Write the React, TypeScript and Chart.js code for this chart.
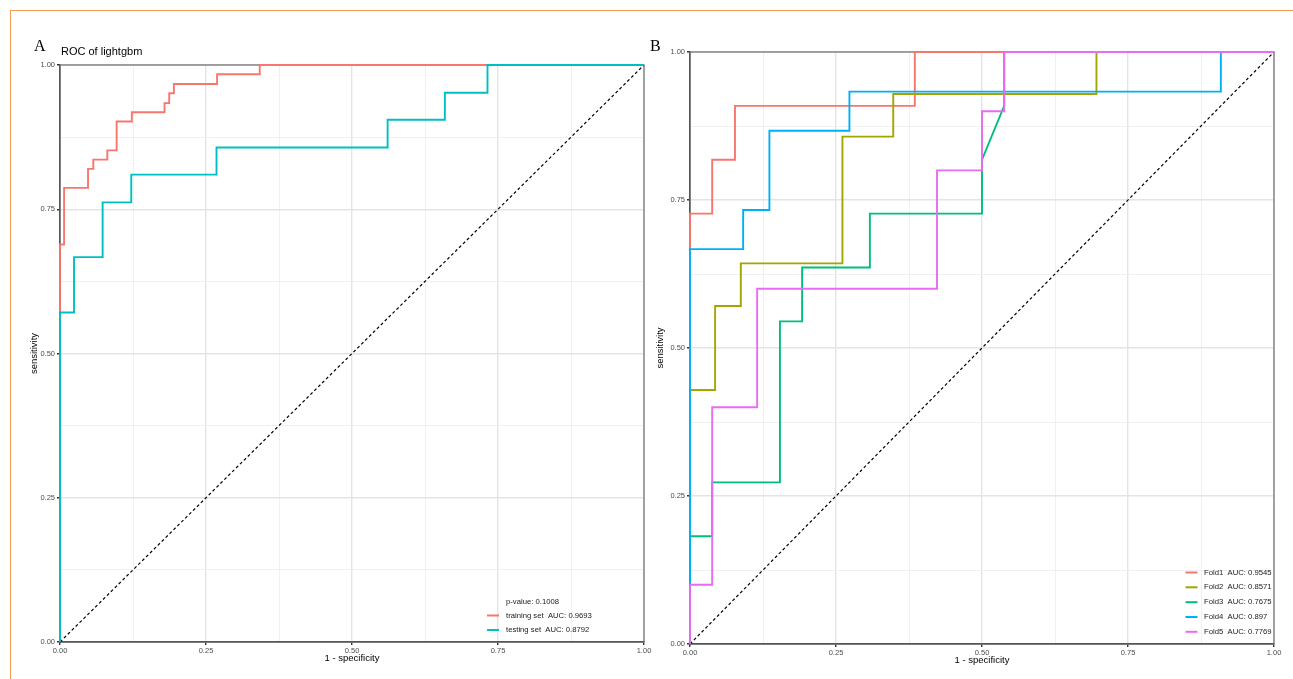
import React, { useEffect, useRef } from "react";
import { Chart, registerables } from "chart.js";

Chart.register(...registerables);

// ---------- Data ----------
// Panel A: ROC of lightgbm
const trainFpr = [0, 0, 0.007, 0.007, 0.048, 0.048, 0.057, 0.057, 0.081, 0.081, 0.097, 0.097, 0.123, 0.123, 0.179, 0.179, 0.187, 0.187, 0.195, 0.195, 0.269, 0.269, 0.342, 0.342, 1];
const trainTpr = [0, 0.689, 0.689, 0.787, 0.787, 0.820, 0.820, 0.836, 0.836, 0.852, 0.852, 0.902, 0.902, 0.918, 0.918, 0.934, 0.934, 0.951, 0.951, 0.967, 0.967, 0.984, 0.984, 1, 1];
const testFpr = [0, 0, 0.024, 0.024, 0.073, 0.073, 0.122, 0.122, 0.268, 0.268, 0.561, 0.561, 0.659, 0.659, 0.732, 0.732, 1];
const testTpr = [0, 0.571, 0.571, 0.667, 0.667, 0.762, 0.762, 0.810, 0.810, 0.857, 0.857, 0.905, 0.905, 0.952, 0.952, 1, 1];
const panelALabels = ["training set  AUC: 0.9693", "testing set  AUC: 0.8792"];
const panelAPValue = "p-value: 0.1008";
const panelATitle = "ROC of lightgbm";

// Panel B: 5-fold cross validation
const fold1Fpr = [0, 0, 0.038, 0.038, 0.077, 0.077, 0.385, 0.385, 1];
const fold1Tpr = [0, 0.727, 0.727, 0.818, 0.818, 0.909, 0.909, 1, 1];
const fold2Fpr = [0, 0, 0.043, 0.043, 0.087, 0.087, 0.261, 0.261, 0.348, 0.348, 0.696, 0.696, 1];
const fold2Tpr = [0, 0.429, 0.429, 0.571, 0.571, 0.643, 0.643, 0.857, 0.857, 0.929, 0.929, 1, 1];
const fold3Fpr = [0, 0, 0.038, 0.038, 0.154, 0.154, 0.192, 0.192, 0.308, 0.308, 0.5, 0.5, 0.538, 0.538, 1];
const fold3Tpr = [0, 0.182, 0.182, 0.273, 0.273, 0.545, 0.545, 0.636, 0.636, 0.727, 0.727, 0.818, 0.909, 1, 1];
const fold4Fpr = [0, 0, 0.091, 0.091, 0.136, 0.136, 0.273, 0.273, 0.909, 0.909, 1];
const fold4Tpr = [0, 0.667, 0.667, 0.733, 0.733, 0.867, 0.867, 0.933, 0.933, 1, 1];
const fold5Fpr = [0, 0, 0.038, 0.038, 0.115, 0.115, 0.423, 0.423, 0.5, 0.5, 0.538, 0.538, 1];
const fold5Tpr = [0, 0.1, 0.1, 0.4, 0.4, 0.6, 0.6, 0.8, 0.8, 0.9, 0.9, 1, 1];
const foldNames = ["Fold1", "Fold2", "Fold3", "Fold4", "Fold5"];
const foldAuc = ["0.9545", "0.8571", "0.7675", "0.897", "0.7769"];

const diagX = [0, 1];
const diagY = [0, 1];

const axisTickValues = [0, 0.25, 0.5, 0.75, 1];
const xTitle = "1 - specificity";
const yTitle = "sensitivity";

// ---------- Styles ----------
const SANS = "'Liberation Sans', Arial, Helvetica, sans-serif";
const SERIF = "'Liberation Serif', 'Times New Roman', serif";
const colorsA = ["#F8766D", "#00BFC4"];
const colorsB = ["#F8766D", "#A3A500", "#00BF7D", "#00B0F6", "#E76BF3"];

const pts = (xs: number[], ys: number[]) => xs.map((x, i) => ({ x, y: ys[i] }));
const isMajor = (v: any) =>
  typeof v === "number" && axisTickValues.some((t) => Math.abs(t - v) < 1e-6);

type LegendItem = { color: string | null; text: string };

type PanelSpec = {
  offsetX: number;
  width: number;
  height: number;
  pad: { left: number; right: number; top: number; bottom: number };
  yWidth: number;
  xHeight: number;
  xTitlePad: number;
  datasets: any[];
  letter: string;
  letterX: number;
  title?: string;
  legend: LegendItem[];
  legendSwatchX: number;
  legendTextX: number;
  legendYs: number[];
};

function makeScale(isX: boolean, size: number, titlePad: number) {
  return {
    type: "linear",
    min: 0,
    max: 1,
    ticks: {
      stepSize: 0.125,
      autoSkip: false,
      maxRotation: 0,
      padding: isX ? 1 : 2,
      color: "#4D4D4D",
      font: { family: SANS, size: 7.5 },
      callback: (v: any) => (isMajor(v) ? Number(v).toFixed(2) : ""),
    },
    grid: {
      color: (c: any) => (isMajor(c.tick?.value) ? "#E4E4E4" : "#EEEEEE"),
      lineWidth: (c: any) => (isMajor(c.tick?.value) ? 1.4 : 0.9),
      tickColor: (c: any) => (isMajor(c.tick?.value) ? "#333333" : "rgba(0,0,0,0)"),
      tickLength: 3,
      drawTicks: true,
    },
    border: { display: true, color: "#333333", width: 1.4 },
    title: {
      display: true,
      text: isX ? xTitle : yTitle,
      color: "#000000",
      font: { family: SANS, size: 9.5 },
      padding: isX ? { top: 0, bottom: titlePad } : { top: titlePad, bottom: 0 },
    },
    afterFit: (scale: any) => {
      if (isX) scale.height = size;
      else scale.width = size;
    },
  };
}

function Panel({ spec }: { spec: PanelSpec }) {
  const ref = useRef<HTMLCanvasElement | null>(null);
  useEffect(() => {
    if (!ref.current) return;
    const framePlugin = {
      id: "panelFrame",
      beforeDatasetsDraw(chart: any) {
        const { ctx, chartArea: a } = chart;
        ctx.save();
        ctx.strokeStyle = "#6E6E6E";
        ctx.lineWidth = 1.2;
        ctx.strokeRect(a.left, a.top, a.right - a.left, a.bottom - a.top);
        ctx.restore();
      },
    };
    const extrasPlugin = {
      id: "panelExtras",
      afterDraw(chart: any) {
        const ctx = chart.ctx as CanvasRenderingContext2D;
        const ox = spec.offsetX;
        ctx.save();
        ctx.fillStyle = "#000";
        ctx.font = `16px ${SERIF}`;
        ctx.textBaseline = "alphabetic";
        ctx.textAlign = "left";
        ctx.fillText(spec.letter, spec.letterX - ox, 51);
        if (spec.title) {
          ctx.font = `11px ${SANS}`;
          ctx.fillText(spec.title, 61 - ox, 55);
        }
        ctx.font = `7.7px ${SANS}`;
        ctx.textBaseline = "middle";
        spec.legend.forEach((item, i) => {
          const y = spec.legendYs[i];
          if (item.color) {
            ctx.strokeStyle = item.color;
            ctx.lineWidth = 2;
            ctx.beginPath();
            ctx.moveTo(spec.legendSwatchX - ox, y);
            ctx.lineTo(spec.legendSwatchX + 12 - ox, y);
            ctx.stroke();
          }
          ctx.fillStyle = "#1A1A1A";
          ctx.fillText(item.text, spec.legendTextX - ox, y);
        });
        ctx.restore();
      },
    };
    const chart = new Chart(ref.current, {
      type: "scatter",
      data: { datasets: spec.datasets },
      options: {
        responsive: false,
        animation: false,
        devicePixelRatio: 1,
        events: [],
        layout: { padding: spec.pad },
        plugins: { legend: { display: false }, tooltip: { enabled: false }, title: { display: false } },
        scales: {
          x: makeScale(true, spec.xHeight, spec.xTitlePad) as any,
          y: makeScale(false, spec.yWidth, 3) as any,
        },
      },
      plugins: [framePlugin, extrasPlugin],
    });
    return () => chart.destroy();
  }, [spec]);
  return (
    <canvas
      ref={ref}
      width={spec.width}
      height={spec.height}
      style={{ position: "absolute", left: spec.offsetX, top: 0, width: spec.width, height: spec.height }}
    />
  );
}

const line = (xs: number[], ys: number[], color: string, order: number) => ({
  data: pts(xs, ys),
  showLine: true,
  borderColor: color,
  backgroundColor: color,
  borderWidth: 1.9,
  pointRadius: 0,
  pointHoverRadius: 0,
  tension: 0,
  clip: false,
  order,
});

const diagonal = (order: number) => ({
  data: pts(diagX, diagY),
  showLine: true,
  borderColor: "#000000",
  borderWidth: 1.2,
  borderDash: [3, 2.5],
  pointRadius: 0,
  tension: 0,
  clip: false,
  order,
});

const specA: PanelSpec = {
  offsetX: 0,
  width: 660,
  height: 679,
  pad: { left: 26, right: 16, top: 65, bottom: 10 },
  yWidth: 34,
  xHeight: 27,
  xTitlePad: 5,
  datasets: [
    line(trainFpr, trainTpr, colorsA[0], 1),
    line(testFpr, testTpr, colorsA[1], 0),
    diagonal(2),
  ],
  letter: "A",
  letterX: 34,
  title: panelATitle,
  legend: [
    { color: null, text: panelAPValue },
    { color: colorsA[0], text: panelALabels[0] },
    { color: colorsA[1], text: panelALabels[1] },
  ],
  legendSwatchX: 487,
  legendTextX: 506,
  legendYs: [602, 615.5, 630],
};

const foldFprs = [fold1Fpr, fold2Fpr, fold3Fpr, fold4Fpr, fold5Fpr];
const foldTprs = [fold1Tpr, fold2Tpr, fold3Tpr, fold4Tpr, fold5Tpr];

const specB: PanelSpec = {
  offsetX: 650,
  width: 643,
  height: 679,
  pad: { left: 2, right: 19, top: 52, bottom: 10 },
  yWidth: 38,
  xHeight: 25,
  xTitlePad: 2.6,
  datasets: [
    ...foldFprs.map((f, i) => line(f, foldTprs[i], colorsB[i], 4 - i)),
    diagonal(5),
  ],
  letter: "B",
  letterX: 650,
  legend: foldNames.map((n, i) => ({ color: colorsB[i], text: `${n}  AUC: ${foldAuc[i]}` })),
  legendSwatchX: 1185.5,
  legendTextX: 1204,
  legendYs: [572.5, 587.3, 602.2, 617, 631.8],
};

export default function App() {
  return (
    <div style={{ position: "absolute", left: 0, top: 0, width: 1293, height: 679, overflow: "hidden", background: "#fff" }}>
      <div style={{ position: "absolute", left: 10, top: 10, width: 1400, height: 800, borderTop: "1.5px solid #F79A4B", borderLeft: "1.5px solid #F79A4B" }} />
      <Panel spec={specA} />
      <Panel spec={specB} />
    </div>
  );
}
